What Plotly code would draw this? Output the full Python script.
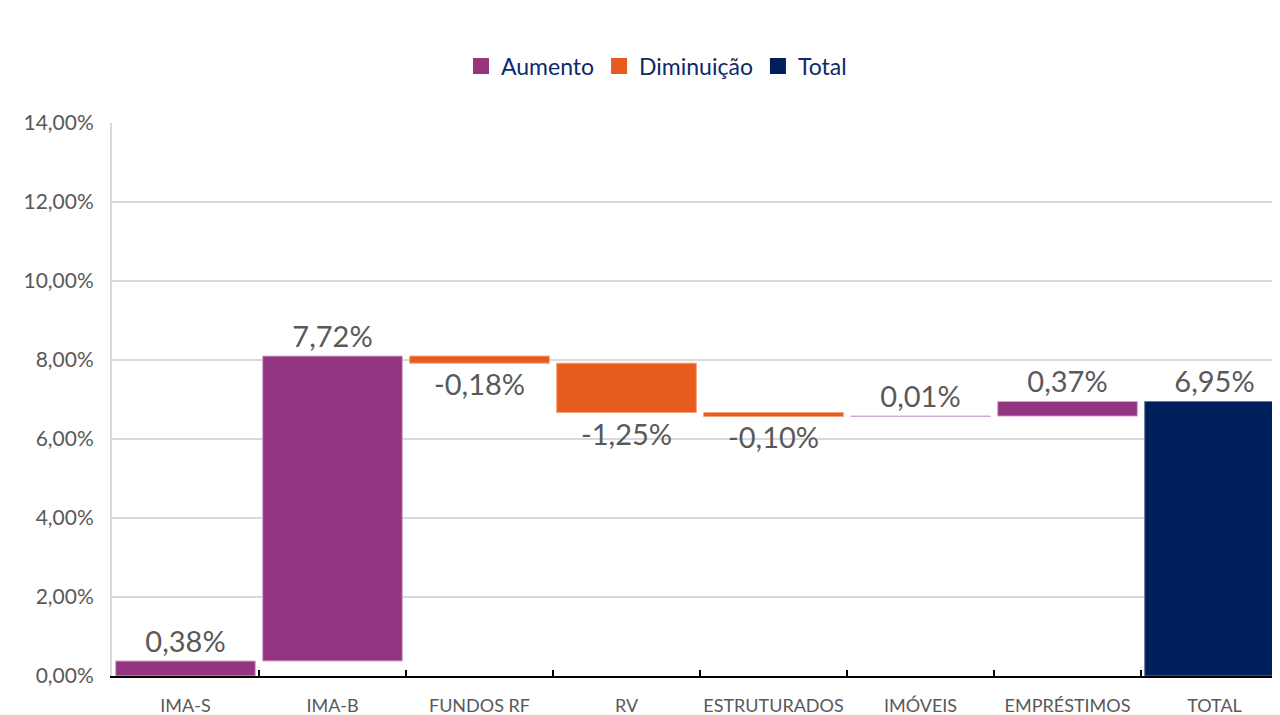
import plotly.graph_objects as go

categories = ["IMA-S", "IMA-B", "FUNDOS RF", "RV", "ESTRUTURADOS", "IMÓVEIS", "EMPRÉSTIMOS", "TOTAL"]
values = [0.38, 7.72, -0.18, -1.25, -0.10, 0.01, 0.37, 6.95]
measures = ["relative"] * 7 + ["total"]
legend_names = ["Aumento", "Diminuição", "Total"]
y_ticks = [0, 2, 4, 6, 8, 10, 12, 14]

c_up = "#943581"
c_down = "#E85B1E"
c_total = "#00205B"
font_fam = "Lato, 'Open Sans', sans-serif"

labels = [f"{v:.2f}".replace(".", ",") + "%" for v in values]

fig = go.Figure()
fig.add_trace(go.Waterfall(
    x=categories, y=[v if m == "relative" else 0 for v, m in zip(values, measures)],
    measure=measures,
    text=labels, textposition="outside",
    textfont=dict(size=29, color="#595959", family=font_fam),
    increasing=dict(marker=dict(color=c_up, line=dict(color="#d7a8cf", width=1))),
    decreasing=dict(marker=dict(color=c_down, line=dict(color="#f4a27c", width=1))),
    totals=dict(marker=dict(color=c_total, line=dict(color="#6a7ba3", width=1))),
    connector=dict(visible=False),
    width=0.95, showlegend=False, cliponaxis=False,
))
for name, col in zip(legend_names, [c_up, c_down, c_total]):
    fig.add_trace(go.Scatter(x=[None], y=[None], name=name, mode="markers",
                             marker=dict(color=col, symbol="square", size=20), showlegend=True))

fig.update_layout(
    width=1280, height=715,
    margin=dict(l=104, r=0, t=115, b=47, autoexpand=False),
    paper_bgcolor="white", plot_bgcolor="white",
    separators=",.",
    font=dict(family=font_fam, color="#595959"),
    legend=dict(orientation="h", x=0.463, xanchor="center", y=1.103, yanchor="middle",
                font=dict(size=23, color="#0d2a6b", family=font_fam),
                itemwidth=30, traceorder="normal", itemsizing="trace"),
    xaxis=dict(
        type="category", range=[-0.5, 7.5],
        showline=True, linecolor="black", linewidth=2,
        ticks="inside", tickson="boundaries", ticklen=6, tickcolor="black", tickwidth=2,
        tickfont=dict(size=18, color="#595959"), ticklabelstandoff=12, tickangle=0,
        showgrid=False, zeroline=False, automargin=False,
    ),
    yaxis=dict(
        range=[0, 14], tickvals=y_ticks, ticktext=[f"{t:.2f}".replace(".", ",") + "%" for t in y_ticks],
        showgrid=True, gridcolor="#d9d9d9", gridwidth=2,
        showline=True, linecolor="#d9d9d9", linewidth=2,
        zeroline=False, tickfont=dict(size=21, color="#595959"),
        ticks="", ticklabelstandoff=12, automargin=False,
    ),
)

fig.write_html("out.html")
